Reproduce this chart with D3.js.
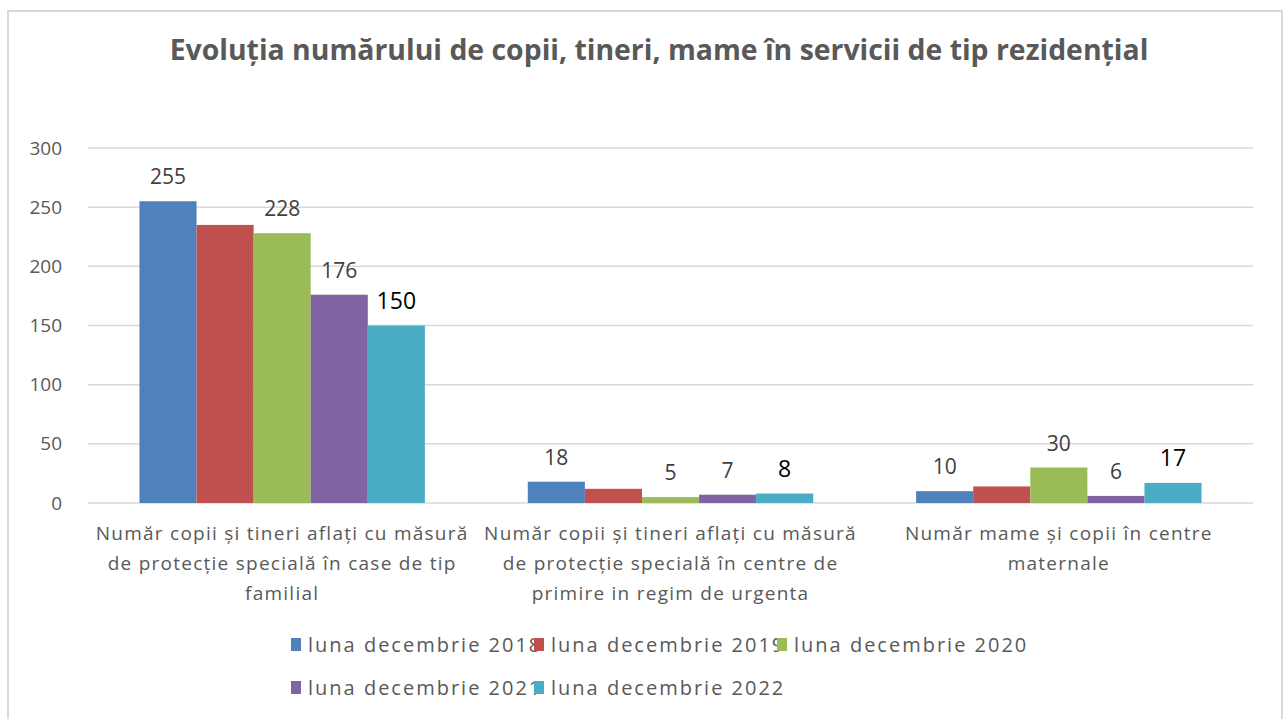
<!DOCTYPE html>
<meta charset="utf-8">
<html>
<style>
	body { margin: 0; background: #fff; }
	text { font-family: "Open Sans", "Liberation Sans", sans-serif; }
	.title { font-family: "Liberation Sans Narrow", "Open Sans", sans-serif; font-weight: bold; font-size: 28.4px; fill: #595959; }
	.tick-label { font-size: 19px; fill: #595959; }
	.cat-label { font-size: 19px; fill: #595959; letter-spacing: 1.25px; }
	.data-label { font-size: 21px; fill: #404040; }
	.legend-label { font-size: 20px; fill: #595959; letter-spacing: 2px; }
</style>
<body>
<div id="chart"></div>

<script src="https://d3js.org/d3.v7.min.js"></script>
<script>
	// -----Data-----
	const categories = [
		["Număr copii și tineri aflați cu măsură", "de protecție specială în case de tip", "familial"],
		["Număr copii și tineri aflați cu măsură", "de protecție specială în centre de", "primire in regim de urgenta"],
		["Număr mame și copii în centre", "maternale"]
	]
	const series = ["luna decembrie 2018", "luna decembrie 2019", "luna decembrie 2020", "luna decembrie 2021", "luna decembrie 2022"]
	const values = [
		[255, 235, 228, 176, 150],
		[18, 12, 5, 7, 8],
		[10, 14, 30, 6, 17]
	]
	// labels shown on the chart (the 2019 series has none)
	const labels = [
		[255, null, 228, 176, 150],
		[18, null, 5, 7, 8],
		[10, null, 30, 6, 17]
	]
	const y_ticks = [0, 50, 100, 150, 200, 250, 300]
	const colours = ["#4f81bd", "#c0504d", "#9bbb59", "#8064a2", "#4bacc6"]

	// -----Definitions-----
	const W = 1287, H = 719
	const margin = {top: 148, left: 88, right: 34, bottom: 216}
	const width = W - margin.left - margin.right,
		  height = H - margin.top - margin.bottom

	const svg_root = d3.select("#chart").append("svg")
		.attr("width", W).attr("height", H)

	// chart frame
	svg_root.append("rect")
		.attr("x", 8).attr("y", 11)
		.attr("width", 1274).attr("height", 720)
		.attr("fill", "none")
		.attr("stroke", "#d9d9d9")
		.attr("stroke-width", 2)

	svg_root.append("text")
		.attr("class", "title")
		.attr("x", 659).attr("y", 60)
		.attr("text-anchor", "middle")
		.text("Evoluția numărului de copii, tineri, mame în servicii de tip rezidențial")

	const svg = svg_root.append("g")
		.attr("transform", "translate(" + margin.left + "," + margin.top + ")")

	// Scales
	const x = d3.scaleBand()
		.domain(d3.range(categories.length))
		.range([0, width])
		.paddingInner(0.265)
		.paddingOuter(0.1325)
	const x_sub = d3.scaleBand()
		.domain(d3.range(series.length))
		.range([0, x.bandwidth()])
	const y = d3.scaleLinear()
		.domain([0, 300])
		.range([height, 0])

	// Grid lines
	svg.append("g")
		.selectAll("line")
		.data(y_ticks)
		.join("line")
			.attr("x1", 0).attr("x2", width)
			.attr("y1", d => y(d)).attr("y2", d => y(d))
			.attr("stroke", "#d9d9d9")
			.attr("stroke-width", 1.5)

	// Y axis labels
	const axis_y = svg.append("g")
		.call(d3.axisLeft(y).tickValues(y_ticks).tickSize(0).tickPadding(26))
	axis_y.select(".domain").remove()
	axis_y.selectAll("text")
		.attr("class", "tick-label")
		.attr("font-family", null).attr("font-size", null).attr("fill", null)

	// Bars
	const groups = svg.selectAll(".group")
		.data(values)
		.join("g")
			.attr("class", "group")
			.attr("transform", (d, i) => "translate(" + x(i) + ",0)")

	groups.selectAll("rect")
		.data(d => d)
		.join("rect")
			.attr("x", (d, j) => x_sub(j))
			.attr("y", d => y(d))
			.attr("width", x_sub.bandwidth())
			.attr("height", d => height - y(d))
			.attr("fill", (d, j) => colours[j])

	// Data labels
	svg.selectAll(".labels")
		.data(labels)
		.join("g")
			.attr("transform", (d, i) => "translate(" + x(i) + ",0)")
		.selectAll("text")
		.data((d, i) => d.map((v, j) => ({v: v, top: values[i][j], j: j})).filter(o => o.v !== null))
		.join("text")
			.attr("class", "data-label")
			.attr("x", o => x_sub(o.j) + x_sub.bandwidth() / 2)
			.attr("y", o => y(o.top) - 17)
			.attr("text-anchor", "middle")
			.style("fill", o => o.j == 4 ? "#000" : null)
			.style("font-size", o => o.j == 4 ? "23px" : null)
			.text(o => o.v)

	// Category labels
	svg.selectAll(".cat")
		.data(categories)
		.join("text")
			.attr("class", "cat-label")
			.attr("text-anchor", "middle")
			.attr("transform", (d, i) => "translate(" + (x(i) + x.bandwidth() / 2) + "," + (height + 37) + ")")
		.selectAll("tspan")
		.data(d => d)
		.join("tspan")
			.attr("x", 0)
			.attr("y", (d, k) => k * 30)
			.text(d => d)

	// Legend
	const legend = svg_root.append("g")
	const leg = legend.selectAll("g")
		.data(series)
		.join("g")
			.attr("transform", (d, i) => "translate(" + (291 + (i % 3) * 243) + "," + (645 + Math.floor(i / 3) * 43) + ")")
	leg.append("rect")
		.attr("x", 0).attr("y", -7)
		.attr("width", 10).attr("height", 13)
		.attr("fill", (d, i) => colours[i])
	leg.append("text")
		.attr("class", "legend-label")
		.attr("x", 17).attr("y", 7)
		.text(d => d)
</script>
</body>
</html>
